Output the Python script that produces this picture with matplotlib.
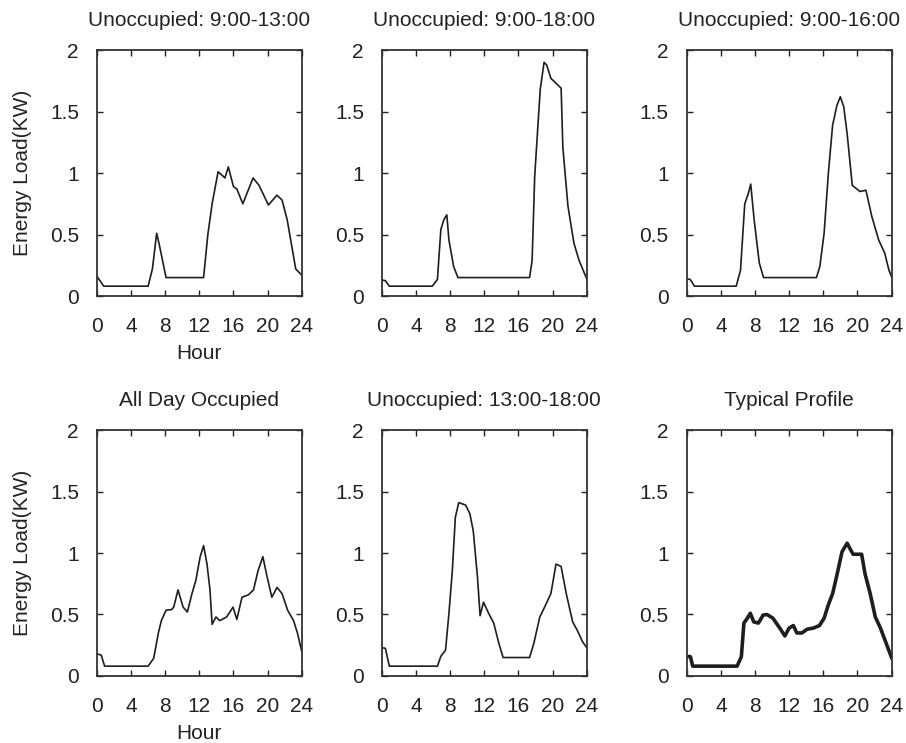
import matplotlib
matplotlib.use("Agg")
import matplotlib.pyplot as plt

plt.rcParams['font.family'] = ['Liberation Sans', 'DejaVu Sans']

# dados (hora, carga em kW)
h1 = [0, 0.8, 6.0, 6.5, 7.0, 7.3, 8.1, 12.5, 13.0, 13.5, 14.2, 14.7, 15.0, 15.4, 16.0, 16.4,
      17.1, 18.3, 19.0, 20.1, 21.1, 21.7, 22.3, 23.3, 24]
v1 = [0.16, 0.08, 0.08, 0.22, 0.51, 0.42, 0.15, 0.15, 0.5, 0.75, 1.01, 0.98, 0.96, 1.05, 0.89, 0.87,
      0.75, 0.96, 0.9, 0.74, 0.82, 0.78, 0.62, 0.22, 0.17]

h2 = [0, 0.4, 0.86, 5.9, 6.5, 6.9, 7.25, 7.6, 7.85, 8.4, 8.9, 17.3, 17.6, 17.9, 18.2, 18.55,
      19.0, 19.3, 19.8, 21.0, 21.2, 21.8, 22.5, 23.1, 24]
v2 = [0.13, 0.125, 0.08, 0.08, 0.135, 0.54, 0.62, 0.66, 0.455, 0.24, 0.15, 0.15, 0.29, 0.97, 1.30, 1.68,
      1.90, 1.88, 1.77, 1.69, 1.21, 0.73, 0.43, 0.29, 0.14]

h3 = [0, 0.4, 0.9, 5.8, 6.3, 6.8, 7.2, 7.5, 7.9, 8.5, 9.0, 15.2, 15.6, 16.1, 16.6, 17.1, 17.6,
      18.0, 18.4, 18.8, 19.4, 20.3, 21.0, 21.7, 22.5, 23.2, 23.7, 24]
v3 = [0.14, 0.135, 0.08, 0.08, 0.21, 0.75, 0.83, 0.91, 0.62, 0.27, 0.15, 0.15, 0.24, 0.51, 1.0, 1.39, 1.55,
      1.62, 1.54, 1.32, 0.90, 0.85, 0.86, 0.645, 0.455, 0.35, 0.21, 0.157]

h4 = [0, 0.5, 0.9, 6.0, 6.65, 7.2, 7.55, 8.1, 8.75, 9.0, 9.5, 10.1, 10.6, 11.1, 11.6, 12.1, 12.5,
      12.9, 13.25, 13.5, 13.95, 14.4, 15.2, 15.95, 16.4, 17.0, 17.75, 18.35, 18.9, 19.45, 19.9,
      20.5, 21.1, 21.7, 22.35, 23.05, 23.5, 24]
v4 = [0.18, 0.17, 0.08, 0.08, 0.143, 0.35, 0.45, 0.535, 0.54, 0.56, 0.70, 0.56, 0.52, 0.66, 0.78, 0.97, 1.06,
      0.91, 0.70, 0.42, 0.48, 0.45, 0.48, 0.56, 0.46, 0.64, 0.66, 0.70, 0.86, 0.97, 0.82,
      0.64, 0.72, 0.67, 0.535, 0.45, 0.35, 0.2]

h5 = [0, 0.4, 0.86, 6.5, 6.9, 7.45, 7.85, 8.25, 8.6, 9.0, 9.8, 10.3, 10.7, 11.2, 11.5, 11.9, 12.5,
      13.1, 13.7, 14.2, 17.3, 17.8, 18.5, 19.2, 19.8, 20.4, 21.0, 21.6, 22.35, 22.9, 23.5, 24]
v5 = [0.23, 0.225, 0.08, 0.08, 0.16, 0.21, 0.51, 0.86, 1.29, 1.41, 1.39, 1.32, 1.18, 0.80, 0.49, 0.60, 0.51,
      0.43, 0.265, 0.15, 0.15, 0.265, 0.48, 0.58, 0.67, 0.91, 0.89, 0.67, 0.44, 0.37, 0.28, 0.23]

h6 = [0, 0.43, 0.7, 5.9, 6.4, 6.7, 7.1, 7.45, 7.85, 8.4, 8.95, 9.4, 10.1, 10.9, 11.5, 12.0, 12.5,
      12.9, 13.5, 14.1, 14.85, 15.55, 16.1, 16.6, 17.1, 17.6, 18.2, 18.8, 19.1, 19.5, 19.9, 20.5,
      20.9, 21.5, 22.1, 22.7, 23.3, 24]
v6 = [0.16, 0.157, 0.08, 0.08, 0.157, 0.43, 0.47, 0.51, 0.44, 0.43, 0.495, 0.50, 0.47, 0.39, 0.325, 0.39, 0.41,
      0.35, 0.35, 0.38, 0.39, 0.41, 0.47, 0.58, 0.67, 0.82, 1.01, 1.08, 1.04, 0.99, 0.99, 0.99,
      0.83, 0.67, 0.48, 0.39, 0.28, 0.15]

titulos = ['Unoccupied: 9:00-13:00', 'Unoccupied: 9:00-18:00', 'Unoccupied: 9:00-16:00',
           'All Day Occupied', 'Unoccupied: 13:00-18:00', 'Typical Profile']
horas = [h1, h2, h3, h4, h5, h6]
cargas = [v1, v2, v3, v4, v5, v6]
espessura = [1.2, 1.2, 1.2, 1.2, 1.2, 2.6]

xticks = [0, 4, 8, 12, 16, 20, 24]
yticks = [0, 0.5, 1, 1.5, 2]
ylabels = ['0', '0.5', '1', '1.5', '2']

######################################
# Figura
######################################

fig = plt.figure(figsize=(9.06, 7.43), dpi=100)
lefts = [0.107, 0.4216, 0.758]
bottoms = [0.6016, 0.0902]

for i in range(6):
    lin, col = divmod(i, 3)
    ax = fig.add_axes([lefts[col], bottoms[lin], 0.226, 0.331])
    ax.plot(horas[i], cargas[i], color='#1e1e1e', lw=espessura[i])
    ax.set_xlim(0, 24)
    ax.set_ylim(0, 2)
    ax.set_xticks(xticks)
    ax.set_yticks(yticks)
    ax.set_yticklabels(ylabels)
    ax.tick_params(direction='in', length=4, width=1, top=True, right=True,
                   labelsize=15, colors='#222222', pad=15)
    ax.tick_params(axis='y', pad=13)
    for s in ax.spines.values():
        s.set_color('#333333')
        s.set_linewidth(1.3)
    ax.set_title(titulos[i], fontsize=15, color='#222222', pad=17)
    if col == 0:
        ax.set_ylabel('Energy Load(KW)', fontsize=15, color='#222222', labelpad=13)
        ax.set_xlabel('Hour', fontsize=15, color='#222222', labelpad=6)

fig.savefig('out.png', dpi=100)
